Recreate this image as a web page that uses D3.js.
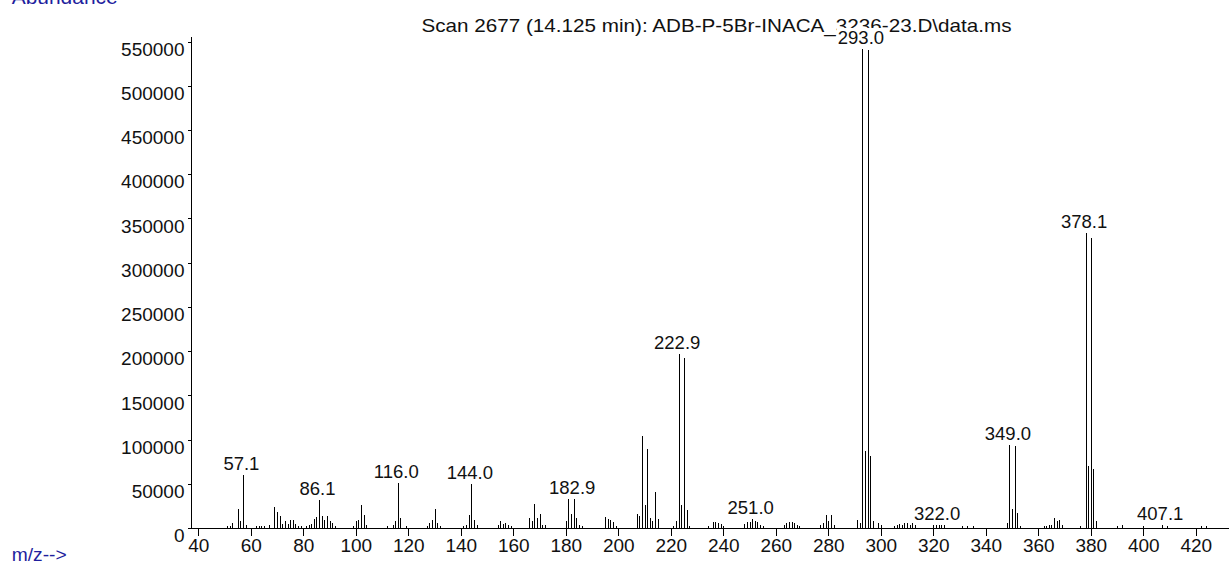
<!DOCTYPE html>
<html>
<head>
<meta charset="utf-8">
<script src="https://cdn.jsdelivr.net/npm/d3@7"></script>
<style>
  html, body { margin: 0; padding: 0; background: #fff; }
  svg { display: block; }
  text { font-family: "Liberation Sans", Arial, sans-serif; }
</style>
</head>
<body>
<svg id="chart" width="1231" height="567"></svg>
<script>
// ---- data ----
const titleText = "Scan 2677 (14.125 min): ADB-P-5Br-INACA_3236-23.D\\data.ms";
const yAxisTitle = "Abundance";
const xAxisTitle = "m/z-->";

const mz = [
  51, 52, 53, 55, 56, 57, 58, 62, 63, 64, 65, 67, 69, 70, 71, 72, 73, 74, 75, 76, 77, 78, 79, 81, 82, 83,
  84, 85, 86, 87, 88, 89, 90, 91, 92, 99, 100, 101, 102, 103, 104, 112, 114, 115, 116, 117, 119,
  127, 128, 129, 130, 131, 132, 141, 142, 143, 144, 145, 146, 154, 155, 156, 157, 158, 159,
  166, 167, 168, 169, 170, 171, 172, 180, 181, 182, 183, 184, 185, 186,
  195, 196, 197, 198, 199, 207, 208, 209, 210, 211, 212, 213, 214, 215, 221, 222, 223, 224, 225, 226, 227,
  234, 236, 237, 238, 239, 240, 248, 249, 250, 251, 252, 253, 254, 255,
  263, 264, 265, 266, 267, 268, 269, 277, 278, 279, 280, 281, 282,
  291, 292, 293, 294, 295, 296, 297, 299, 300, 305, 306, 307, 308, 309, 310, 311, 312, 313,
  320, 321, 322, 323, 324, 331, 333, 335,
  348, 349, 350, 351, 352, 353, 362, 363, 364, 365, 366, 367, 368, 369,
  376, 378, 379, 380, 381, 382, 390, 392, 400, 407, 409, 422, 424
];
const abundance = [
  2600, 2600, 5600, 21800, 7600, 59500, 3400, 1700, 2300, 2300, 2800, 3000, 23700, 18100, 13200, 4500, 7600, 4000, 9400, 8700, 4500, 2800, 2300, 2800, 3400, 4000,
  10200, 12100, 31300, 13200, 9400, 13200, 7600, 5600, 2300, 2300, 7600, 9400, 25600, 15000, 3400, 2300, 3400, 7600, 50500, 11300, 2800,
  2800, 5600, 9400, 21800, 5600, 2800, 2300, 3400, 15000, 50200, 8700, 3400, 3400, 7600, 4500, 5600, 3400, 2300,
  11300, 7600, 27100, 11300, 16100, 3400, 3400, 7600, 32400, 16100, 33000, 11300, 3400, 2300,
  12000, 10200, 9400, 6400, 2800, 15500, 13200, 103500, 26300, 89200, 11300, 8200, 41000, 10200, 2600, 8200, 197200, 26300, 191900, 20700, 2600,
  2600, 6400, 6400, 5600, 4500, 2600, 4900, 7100, 6400, 10200, 8200, 6400, 3400, 2600,
  3400, 5600, 6400, 6400, 5600, 3400, 2600, 3400, 5600, 15000, 7600, 15000, 3400,
  9400, 5600, 541000, 87300, 540000, 81600, 7600, 5600, 3700, 2300, 3700, 4500, 3700, 5600, 5600, 3700, 5600, 3700,
  3700, 3400, 3700, 3400, 3400, 2300, 2300, 1700,
  5600, 94000, 21800, 92200, 16900, 2300, 2300, 2800, 3700, 3400, 11300, 7600, 9400, 3400,
  2300, 333000, 70300, 328000, 66600, 7600, 2300, 3400, 1700, 3400, 2300, 2800, 2300
];
const labelMz = [57, 86, 116, 144, 183, 223, 251, 293, 322, 349, 378, 407];
const labelText = ["57.1", "86.1", "116.0", "144.0", "182.9", "222.9", "251.0", "293.0", "322.0", "349.0", "378.1", "407.1"];

const xMajorTicks = [40, 60, 80, 100, 120, 140, 160, 180, 200, 220, 240, 260, 280, 300, 320, 340, 360, 380, 400, 420];
const xMinorTicks = d3.range(40, 433, 4);
const yMajorTicks = [0, 50000, 100000, 150000, 200000, 250000, 300000, 350000, 400000, 450000, 500000, 550000];
const yMinorTicks = d3.range(0, 550001, 10000);

// ---- layout ----
const svg = d3.select("#chart");
const x = d3.scaleLinear().domain([40, 420]).range([198.3, 1195.8]);
const y = d3.scaleLinear().domain([0, 550000]).range([528, 41.5]);
const axisX0 = 191.5, axisY0 = 528.5;
const fs = 19;

// title
svg.append("text")
  .attr("x", 716.5).attr("y", 31.5)
  .attr("text-anchor", "middle")
  .attr("font-size", fs).attr("fill", "#111")
  .attr("textLength", 590).attr("lengthAdjust", "spacingAndGlyphs")
  .text(titleText);

svg.append("text")
  .attr("x", 11.7).attr("y", 4)
  .attr("font-size", 20).attr("fill", "#1f1f9e")
  .attr("textLength", 106).attr("lengthAdjust", "spacingAndGlyphs")
  .text(yAxisTitle);

svg.append("text")
  .attr("x", 11.7).attr("y", 561)
  .attr("font-size", 19).attr("fill", "#1f1f9e")
  .attr("textLength", 55).attr("lengthAdjust", "spacingAndGlyphs")
  .text(xAxisTitle);

// axes
const gx = svg.append("g").attr("transform", `translate(0,${axisY0})`);
gx.call(d3.axisBottom(x).tickValues(xMinorTicks).tickSize(3).tickFormat(""));
gx.call(d3.axisBottom(x).tickValues(xMajorTicks).tickSize(7).tickPadding(3).tickFormat(d3.format("d")));
gx.selectAll(".domain").remove();
gx.selectAll("line").attr("stroke", "#000").attr("shape-rendering", "crispEdges");
gx.selectAll("text").attr("font-size", fs).attr("fill", "#111")
  .attr("font-family", "Liberation Sans, Arial, sans-serif")
  .attr("y", 9.5).attr("dy", "0.72em");

const gy = svg.append("g").attr("transform", `translate(${axisX0},0)`);
gy.call(d3.axisLeft(y).tickValues(yMinorTicks).tickSize(2).tickFormat(""));
gy.call(d3.axisLeft(y).tickValues(yMajorTicks).tickSize(4).tickPadding(3).tickFormat(d3.format("d")));
gy.selectAll(".domain").remove();
gy.selectAll("line").attr("stroke", "#000").attr("shape-rendering", "crispEdges");
gy.selectAll("text").attr("font-size", fs).attr("fill", "#111")
  .attr("font-family", "Liberation Sans, Arial, sans-serif")
  .attr("x", -7).attr("dy", "0.72em");

svg.append("line")
  .attr("x1", axisX0).attr("x2", axisX0).attr("y1", 37).attr("y2", axisY0)
  .attr("stroke", "#000").attr("shape-rendering", "crispEdges");
svg.append("line")
  .attr("x1", 191).attr("x2", 1229).attr("y1", axisY0).attr("y2", axisY0)
  .attr("stroke", "#000").attr("shape-rendering", "crispEdges");

// peaks
const peaks = mz.map((m, i) => ({ mz: m, v: abundance[i] }));
svg.append("g").selectAll("line").data(peaks).join("line")
  .attr("x1", d => Math.round(x(d.mz)) + 0.5)
  .attr("x2", d => Math.round(x(d.mz)) + 0.5)
  .attr("y1", y(0))
  .attr("y2", d => Math.round(y(d.v)))
  .attr("stroke", "#000").attr("stroke-width", 1)
  .attr("shape-rendering", "crispEdges");

// peak labels (with white background box, as in the original)
const labels = labelMz.map((m, i) => ({ mz: m, t: labelText[i], v: abundance[mz.indexOf(m)] }));
const lg = svg.append("g");
const lab = lg.selectAll("g").data(labels).join("g");
lab.append("rect").attr("fill", "#fff");
lab.append("text")
  .attr("x", d => x(d.mz) - 1.5)
  .attr("y", d => y(d.v) - 5)
  .attr("text-anchor", "middle")
  .attr("font-size", 18.5).attr("fill", "#111")
  .text(d => d.t);
lab.each(function(d) {
  const g = d3.select(this);
  const w = g.select("text").node().getComputedTextLength();
  const by = y(d.v) - 5;
  g.select("rect")
    .attr("x", x(d.mz) - 1.5 - w / 2 - 1)
    .attr("y", by - 16.5)
    .attr("width", w + 2)
    .attr("height", 19);
});
</script>
</body>
</html>
